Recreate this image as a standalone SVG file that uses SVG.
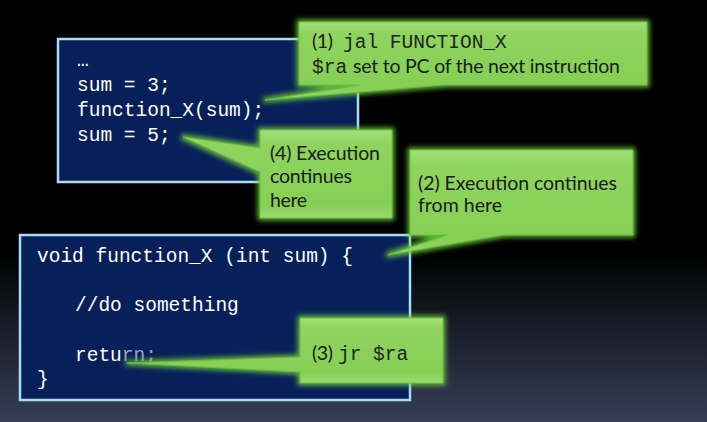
<svg xmlns="http://www.w3.org/2000/svg" width="707" height="422" viewBox="0 0 707 422">
<defs>
<linearGradient id="bg" x1="0" y1="0" x2="0" y2="1">
<stop offset="0" stop-color="#000"/>
<stop offset="0.6" stop-color="#000"/>
<stop offset="0.75" stop-color="#141922"/>
<stop offset="1" stop-color="#363e56"/>
</linearGradient>
<linearGradient id="gr" x1="0" y1="0" x2="0" y2="1">
<stop offset="0" stop-color="#a6e07a"/>
<stop offset="0.15" stop-color="#8fd45e"/>
<stop offset="0.85" stop-color="#86cf55"/>
<stop offset="1" stop-color="#9bdb70"/>
</linearGradient>
<filter id="glow" x="-20%" y="-20%" width="140%" height="140%">
<feMorphology in="SourceAlpha" operator="dilate" radius="1.5" result="d"/>
<feGaussianBlur in="d" stdDeviation="2.5" result="b"/>
<feFlood flood-color="#6fd03a" flood-opacity="0.85"/>
<feComposite in2="b" operator="in" result="g"/>
<feMerge><feMergeNode in="g"/><feMergeNode in="SourceGraphic"/></feMerge>
</filter>
</defs>
<style>
.code{fill:#08205a;stroke:#a8dcf2;stroke-width:2.5}
.mono{font-family:"Liberation Mono","Courier New",monospace;font-size:19.5px}
.cw{fill:#fff}
.call{fill:url(#gr);stroke:#6cbc3e;stroke-width:1;filter:url(#glow)}
.sans{font-family:Lato,"Noto Sans","Liberation Sans",sans-serif;font-size:19.5px;fill:#1a1a1a}
.cm{fill:#222}
</style>
<rect width="707" height="422" fill="url(#bg)"/>

<g id="code-top">
<rect class="code" x="58" y="39" width="300" height="143"/>
<text class="mono cw" x="77" y="66">…</text>
<text class="mono cw" x="77" y="91">sum = 3;</text>
<text class="mono cw" x="77" y="116">function_X(sum);</text>
<text class="mono cw" x="77" y="141">sum = 5;</text>
</g>

<g id="code-bottom">
<rect class="code" x="20" y="235" width="390" height="165"/>
<text class="mono cw" x="37" y="262">void function_X (int sum) {</text>
<text class="mono cw" x="75" y="311">//do something</text>
<text class="mono cw" x="75" y="361">retu<tspan fill="#9aa3b8">rn;</tspan></text>
<text class="mono cw" x="37" y="385">}</text>
</g>

<g id="connectors">
</g>

<g id="callout-1">
<path class="call" d="M299,22 H647 V85 H443 L265,100 L360,85 H299 Z"/>
<text class="sans" x="312" y="48"><tspan textLength="21">(1)</tspan><tspan class="mono cm" x="343">jal FUNCTION_X</tspan></text>
<text class="sans" x="312" y="73"><tspan class="mono cm">$ra</tspan><tspan x="353" textLength="267">set to PC of the next instruction</tspan></text>
</g>

<g id="callout-4">
<path class="call" d="M260,130 H392 V218 H260 V172 L183,137 L260,148 Z"/>
<text class="sans" x="270" y="160" textLength="110">(4) Execution</text>
<text class="sans" x="270" y="183" textLength="82">continues</text>
<text class="sans" x="270" y="207" textLength="37">here</text>
</g>

<g id="callout-2">
<path class="call" d="M410,150 H633 V235 H503 L388,255 L447,235 H410 Z"/>
<text class="sans" x="418" y="190" textLength="199">(2) Execution continues</text>
<text class="sans" x="418" y="212" textLength="84">from here</text>
</g>

<g id="callout-3">
<path class="call" d="M300,318 H443 V383 H300 V372 L127,363 L300,357 Z"/>
<text class="sans" x="312" y="360"><tspan textLength="21">(3)</tspan><tspan class="mono cm" x="338">jr $ra</tspan></text>
</g>
</svg>
